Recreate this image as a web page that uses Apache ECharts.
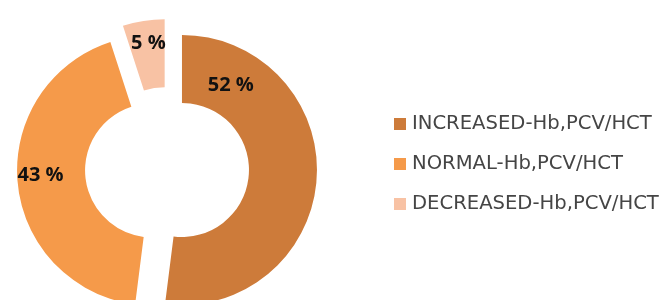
<!DOCTYPE html>
<html>
<head>
<meta charset="utf-8">
<script src="https://cdn.jsdelivr.net/npm/echarts@6/dist/echarts.min.js"></script>
<style>html,body{margin:0;padding:0;background:#fff;}#c{width:665px;height:300px;}</style>
</head>
<body>
<div id="c"></div>
<script>
var categories = ['INCREASED-Hb,PCV/HCT', 'NORMAL-Hb,PCV/HCT', 'DECREASED-Hb,PCV/HCT'];
var values = [52, 43, 5];
var colors = ['#CD7B3A', '#F59A4A', '#F8C2A4'];
var labelShift = [[-55, -91], [-8, -5], [0, -8]];

var chart = echarts.init(document.getElementById('c'), null, {renderer: 'canvas'});
var data = categories.map(function (n, i) {
  return {
    name: n, value: values[i], selected: true,
    itemStyle: {color: colors[i]},
    select: {itemStyle: {color: colors[i]}}
  };
});
chart.setOption({
  animation: false,
  legend: {
    orient: 'vertical', left: 394, top: 114, padding: 0,
    icon: 'rect', itemWidth: 12, itemHeight: 12, itemGap: 20,
    selectedMode: false,
    textStyle: {color: '#454545', fontSize: 19.6, lineHeight: 20, fontFamily: 'DejaVu Sans', padding: [0, 0, 0, 1]},
    data: categories
  },
  series: [{
    type: 'pie',
    center: [167, 169],
    radius: [67, 135],
    startAngle: 90,
    clockwise: true,
    selectedMode: 'multiple',
    selectedOffset: 15,
    avoidLabelOverlap: false,
    silent: true,
    label: {
      show: true, position: 'inside', formatter: '{c} %',
      color: '#111', fontWeight: 'bold', fontSize: 20, fontFamily: 'Open Sans'
    },
    labelLine: {show: false},
    labelLayout: function (p) {
      var s = labelShift[p.dataIndex];
      return {dx: s[0], dy: s[1]};
    },
    data: data
  }]
});
</script>
</body>
</html>
